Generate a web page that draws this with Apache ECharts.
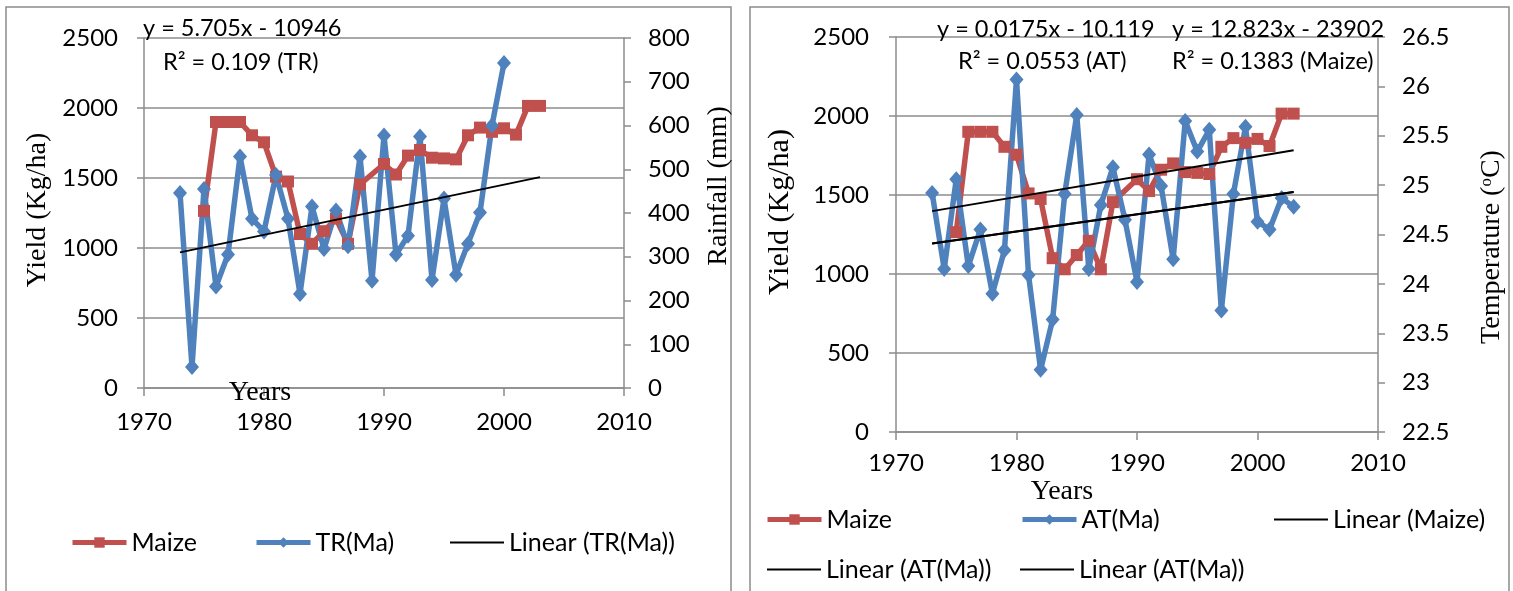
<!DOCTYPE html>
<html>
<head>
<meta charset="utf-8">
<title>Maize yield, rainfall and temperature</title>
<script src="https://cdn.jsdelivr.net/npm/echarts@6/dist/echarts.min.js"></script>
<style>
  html, body { margin: 0; padding: 0; background: #fff; }
  #main { width: 1513px; height: 591px; }
</style>
</head>
<body>
<div id="main"></div>
<script>
// years of record
var years = [1973, 1974, 1975, 1976, 1977, 1978, 1979, 1980, 1981, 1982,
             1983, 1984, 1985, 1986, 1987, 1988, 1989, 1990, 1991, 1992,
             1993, 1994, 1995, 1996, 1997, 1998, 1999, 2000, 2001, 2002, 2003];

// maize yield (Kg/ha), null = no point
var maize = [null, null, 1265, 1900, 1900, 1900, 1805, 1755, 1510, 1475,
             1100, 1030, 1120, 1210, 1030, 1455, null, 1600, 1525, 1660,
             1700, 1645, 1640, 1633, 1805, 1860, 1830, 1855, 1810, 2015, 2015];

// total rainfall TR(Ma) in mm (1973-2000)
var rain = [446, 48, 455, 232, 305, 529, 387, 358, 487, 387,
            215, 415, 318, 406, 324, 529, 245, 577, 305, 348,
            575, 247, 433, 259, 330, 401, 600, 743];

// average temperature AT(Ma) in oC
var temp = [24.92, 24.15, 25.06, 24.18, 24.55, 23.90, 24.34, 26.07, 24.09, 23.13,
            23.64, 24.91, 25.71, 24.15, 24.80, 25.18, 24.65, 24.02, 25.31, 24.99,
            24.25, 25.65, 25.34, 25.56, 23.73, 24.91, 25.59, 24.63, 24.55, 24.87, 24.78];

// trend line end points (1973 and 2003)
var trendYears = [1973, 2003];
var rainTrend = [310, 482];
var maizeTrend = [1398, 1783];
var tempTrend = [24.41, 24.93];

var yieldTicks = { min: 0, max: 2500, step: 500 };
var rainTicks = { min: 0, max: 800, step: 100 };
var tempTicks = { min: 22.5, max: 26.5, step: 0.5 };

function pairs(xs, ys) {
  var out = [];
  for (var i = 0; i < ys.length; i++) {
    out.push([xs[i], ys[i]]);
  }
  return out;
}

var RED = '#C0504D', BLUE = '#4F81BD', GRIDC = '#8c8c8c';
var numFont = 'Lato', serif = 'Liberation Serif';
var TICK_FS = 24, LEG_FS = 25, EQ_FS = 23.5;

function plain(v) { return String(v); }

function xAx(idx, margin) {
  return {
    type: 'value', gridIndex: idx, min: 1970, max: 2010, interval: 10,
    axisLine: { show: true, lineStyle: { color: GRIDC, width: 1.5 } },
    axisTick: { show: true, inside: false, length: 8, lineStyle: { color: GRIDC, width: 1.5 } },
    axisLabel: { color: '#000', fontFamily: numFont, fontSize: TICK_FS, margin: margin, formatter: plain },
    splitLine: { show: false }
  };
}

function yAx(idx, t, pos, grid, margin) {
  return {
    type: 'value', gridIndex: idx, position: pos, min: t.min, max: t.max, interval: t.step,
    axisLine: { show: true, lineStyle: { color: GRIDC, width: 1.5 } },
    axisTick: { show: true, inside: false, length: 7, lineStyle: { color: GRIDC, width: 1.5 } },
    axisLabel: { color: '#000', fontFamily: numFont, fontSize: TICK_FS, margin: margin, formatter: plain },
    splitLine: { show: grid, lineStyle: { color: GRIDC, width: 1.5 } }
  };
}

function lineSeries(name, xi, yi, data, color, symbol, size) {
  return {
    name: name, type: 'line', xAxisIndex: xi, yAxisIndex: yi, data: data,
    symbol: symbol, symbolSize: size, connectNulls: true,
    itemStyle: { color: color },
    lineStyle: { color: color, width: 5.5 }
  };
}

function trendSeries(name, xi, yi, data) {
  return {
    name: name, type: 'line', xAxisIndex: xi, yAxisIndex: yi, data: data,
    symbol: 'none', z: 5,
    itemStyle: { color: '#000' },
    lineStyle: { color: '#000', width: 2 }
  };
}

function legendAt(name, left, top) {
  return {
    data: [name], left: left, top: top, orient: 'horizontal',
    itemWidth: 54, itemHeight: 13, padding: 0,
    lineStyle: { width: 5 },
    textStyle: { color: '#000', fontFamily: numFont, fontSize: LEG_FS }
  };
}

// trend legend: plain thin black bar, no marker
function trendLegendAt(name, left, top) {
  var l = legendAt(name, left, top);
  l.data = [{ name: name, icon: 'rect' }];
  l.itemHeight = 2;
  delete l.lineStyle;
  return l;
}

function label(text, x, y, size, family, rot) {
  return {
    type: 'text', x: x, y: y, rotation: rot || 0, z: 100,
    style: {
      text: text, fill: '#000', fontFamily: family, fontSize: size,
      align: rot ? 'center' : 'left', verticalAlign: 'middle'
    }
  };
}

var chart = echarts.init(document.getElementById('main'), null, { renderer: 'canvas' });

var option = {
  animation: false,
  backgroundColor: '#fff',
  grid: [
    { left: 144, top: 38, width: 480, height: 350 },
    { left: 896, top: 37, width: 482, height: 395 }
  ],
  xAxis: [xAx(0, 22), xAx(1, 19)],
  yAxis: [
    yAx(0, yieldTicks, 'left', true, 26),
    yAx(0, rainTicks, 'right', false, 24),
    yAx(1, yieldTicks, 'left', true, 27),
    yAx(1, tempTicks, 'right', false, 24)
  ],
  legend: [
    legendAt('Maize', 70, 530),
    legendAt('TR(Ma)', 254, 530),
    trendLegendAt('Linear (TR(Ma))', 450, 530),
    legendAt('Maize', 765, 507),
    legendAt('AT(Ma)', 1020, 507),
    trendLegendAt('Linear (Maize)', 1274, 507),
    trendLegendAt('Linear (AT(Ma))', 767, 557),
    trendLegendAt('Linear (AT(Ma))', 1020, 557)
  ],
  series: [
    lineSeries('Maize', 0, 0, pairs(years, maize), RED, 'rect', 12),
    lineSeries('TR(Ma)', 0, 1, pairs(years, rain), BLUE, 'diamond', [14, 16]),
    trendSeries('Linear (TR(Ma))', 0, 1, pairs(trendYears, rainTrend)),
    lineSeries('Maize', 1, 2, pairs(years, maize), RED, 'rect', 12),
    lineSeries('AT(Ma)', 1, 3, pairs(years, temp), BLUE, 'diamond', [14, 16]),
    trendSeries('Linear (Maize)', 1, 2, pairs(trendYears, maizeTrend)),
    trendSeries('Linear (AT(Ma))', 1, 3, pairs(trendYears, tempTrend)),
    trendSeries('Linear (AT(Ma))', 1, 3, pairs(trendYears, tempTrend))
  ],
  graphic: [
    // panel frames
    { type: 'rect', shape: { x: 6, y: 7, width: 725, height: 620 }, z: 0,
      style: { fill: 'none', stroke: GRIDC, lineWidth: 1.5 } },
    { type: 'rect', shape: { x: 750, y: 7, width: 759, height: 620 }, z: 0,
      style: { fill: 'none', stroke: GRIDC, lineWidth: 1.5 } },

    // trend equations
    label('y = 5.705x - 10946', 143, 28, EQ_FS, numFont),
    label('R² = 0.109 (TR)', 163, 62, EQ_FS, numFont),
    label('y = 0.0175x - 10.119', 937, 29, EQ_FS, numFont),
    label('R² = 0.0553 (AT)', 958, 61, EQ_FS, numFont),
    label('y = 12.823x - 23902', 1172, 29, EQ_FS, numFont),
    label('R² = 0.1383 (Maize)', 1172, 61, EQ_FS, numFont),

    // axis titles
    label('Yield (Kg/ha)', 38, 210, 28, serif, Math.PI / 2),
    label('Rainfall (mm)', 719, 186, 28, serif, Math.PI / 2),
    label('Yield (Kg/ha)', 780, 212, 30, serif, Math.PI / 2),
    { type: 'text', x: 260, y: 393, z: 100,
      style: { text: 'Years', fill: '#000', fontFamily: serif, fontSize: 28, align: 'center', verticalAlign: 'middle' } },
    { type: 'text', x: 1062, y: 492, z: 100,
      style: { text: 'Years', fill: '#000', fontFamily: serif, fontSize: 28, align: 'center', verticalAlign: 'middle' } },
    { type: 'text', x: 1492, y: 247, rotation: Math.PI / 2, z: 100,
      style: {
        text: '{a|Temperature (}{s|o}{a|C)}', align: 'center', verticalAlign: 'middle',
        rich: {
          a: { fill: '#000', fontFamily: serif, fontSize: 28 },
          s: { fill: '#000', fontFamily: serif, fontSize: 17, verticalAlign: 'top' }
        }
      } }
  ]
};

chart.setOption(option);
window.onresize = chart.resize;
</script>
</body>
</html>
